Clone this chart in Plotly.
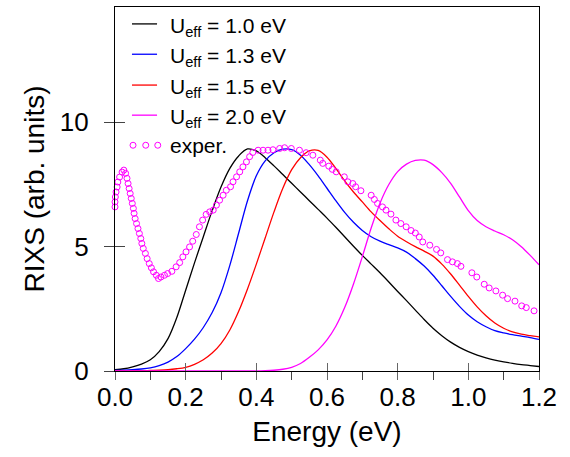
import plotly.graph_objects as go

# ---- energy grid of the calculated spectra (eV) ----
e_calc = [0.000, 0.025, 0.050, 0.075, 0.100, 0.125, 0.150, 0.175, 0.200, 0.225, 0.250,
          0.275, 0.300, 0.325, 0.350, 0.375, 0.400, 0.425, 0.450, 0.475, 0.500, 0.525,
          0.550, 0.575, 0.600, 0.625, 0.650, 0.675, 0.700, 0.725, 0.750, 0.775, 0.800,
          0.825, 0.850, 0.875, 0.900, 0.925, 0.950, 0.975, 1.000, 1.025, 1.050, 1.075,
          1.100, 1.125, 1.150, 1.175, 1.200]

i_u10 = [0.05, 0.09, 0.17, 0.28, 0.45, 0.78, 1.30, 2.15, 3.25, 4.35, 5.40,
         6.45, 7.40, 8.15, 8.65, 8.93, 8.85, 8.58, 8.25, 7.90, 7.55, 7.20,
         6.85, 6.50, 6.15, 5.78, 5.40, 5.02, 4.65, 4.30, 3.95, 3.58, 3.20,
         2.83, 2.45, 2.07, 1.72, 1.42, 1.16, 0.95, 0.78, 0.64, 0.53, 0.44,
         0.37, 0.31, 0.26, 0.22, 0.18]

i_u13 = [0.02, 0.03, 0.05, 0.08, 0.13, 0.22, 0.36, 0.58, 0.90, 1.28, 1.75,
         2.35, 3.15, 4.25, 5.55, 6.85, 7.85, 8.45, 8.78, 8.92, 8.90, 8.68,
         8.30, 7.85, 7.35, 6.85, 6.38, 5.98, 5.65, 5.40, 5.22, 5.08, 4.95,
         4.78, 4.52, 4.22, 3.85, 3.43, 3.00, 2.60, 2.25, 1.98, 1.78, 1.62,
         1.53, 1.46, 1.40, 1.34, 1.27]

i_u15 = [0.00, 0.00, 0.01, 0.01, 0.02, 0.03, 0.05, 0.09, 0.15, 0.27, 0.45,
         0.72, 1.10, 1.65, 2.40, 3.30, 4.30, 5.35, 6.40, 7.35, 8.10, 8.58,
         8.85, 8.87, 8.60, 8.15, 7.65, 7.20, 6.80, 6.40, 6.05, 5.72, 5.42,
         5.20, 5.00, 4.82, 4.62, 4.30, 3.90, 3.45, 3.00, 2.58, 2.22, 1.93,
         1.72, 1.57, 1.48, 1.42, 1.37]

i_u20 = [0.00, 0.00, 0.00, 0.00, 0.00, 0.00, 0.00, 0.00, 0.00, 0.00, 0.00,
         0.00, 0.00, 0.00, 0.00, 0.00, 0.00, 0.01, 0.03, 0.07, 0.15, 0.30,
         0.55, 0.85, 1.25, 1.80, 2.55, 3.50, 4.60, 5.75, 6.75, 7.50, 8.02,
         8.32, 8.47, 8.48, 8.30, 7.98, 7.55, 7.00, 6.45, 6.05, 5.80, 5.63,
         5.48, 5.28, 5.00, 4.65, 4.27]

# ---- experimental data ----
e_exp = [0.000, 0.000, 0.001, 0.003, 0.006, 0.008, 0.013, 0.020, 0.025, 0.030, 0.034, 0.037,
         0.040, 0.043, 0.046, 0.049, 0.052, 0.054, 0.057, 0.061, 0.065, 0.069, 0.073, 0.076,
         0.080, 0.086, 0.091, 0.097, 0.103, 0.109, 0.117, 0.123, 0.130, 0.140, 0.149, 0.161,
         0.173, 0.183, 0.192, 0.201, 0.211, 0.220, 0.230, 0.239, 0.248, 0.258, 0.268, 0.278,
         0.287, 0.296, 0.306, 0.315, 0.327, 0.334, 0.344, 0.353, 0.362, 0.372, 0.381, 0.390,
         0.405, 0.419, 0.433, 0.447, 0.466, 0.480, 0.499, 0.522, 0.541, 0.560, 0.581, 0.588,
         0.605, 0.615, 0.626, 0.649, 0.659, 0.673, 0.681, 0.696, 0.725, 0.734, 0.743, 0.757,
         0.767, 0.781, 0.795, 0.809, 0.824, 0.838, 0.850, 0.861, 0.871, 0.891, 0.910, 0.922,
         0.941, 0.955, 0.969, 0.979, 1.010, 1.024, 1.045, 1.059, 1.078, 1.097, 1.111, 1.132,
         1.151, 1.164, 1.186]
i_exp = [6.60, 6.80, 7.00, 7.20, 7.40, 7.60, 7.80, 8.00, 8.08, 7.95, 7.75, 7.54,
         7.34, 7.14, 6.94, 6.74, 6.54, 6.34, 6.13, 5.93, 5.73, 5.53, 5.33, 5.13,
         4.93, 4.73, 4.52, 4.32, 4.15, 3.99, 3.85, 3.72, 3.78, 3.85, 3.92, 4.01,
         4.19, 4.36, 4.59, 4.79, 4.99, 5.22, 5.49, 5.80, 6.07, 6.30, 6.40, 6.47,
         6.67, 6.87, 7.07, 7.27, 7.41, 7.61, 7.81, 8.01, 8.21, 8.41, 8.62, 8.79,
         8.88, 8.88, 8.88, 8.90, 8.95, 8.98, 8.95, 8.88, 8.78, 8.68, 8.48, 8.35,
         8.24, 8.11, 8.01, 7.81, 7.61, 7.54, 7.41, 7.25, 7.07, 6.90, 6.74, 6.60,
         6.47, 6.31, 6.07, 5.93, 5.80, 5.65, 5.55, 5.39, 5.19, 5.06, 4.89, 4.75,
         4.48, 4.39, 4.32, 4.21, 3.95, 3.78, 3.49, 3.34, 3.22, 3.05, 2.91, 2.81,
         2.62, 2.55, 2.42]

series_names = ["U<sub>eff</sub> = 1.0 eV", "U<sub>eff</sub> = 1.3 eV",
                "U<sub>eff</sub> = 1.5 eV", "U<sub>eff</sub> = 2.0 eV"]
exp_name = "exper."
x_ticks = [0.0, 0.2, 0.4, 0.6, 0.8, 1.0, 1.2]
y_ticks = [0, 5, 10]

colors = ["#000000", "#0000ff", "#ff0000", "#ff00ff"]
MAG = "#ff00ff"
FONT = "Liberation Sans, Arial, Helvetica, sans-serif"

fig = go.Figure()
for iy, name, col in zip([i_u10, i_u13, i_u15, i_u20], series_names, colors):
    fig.add_trace(go.Scatter(x=e_calc, y=iy, mode="lines", name=name,
                             line=dict(color=col, width=1.3, shape="spline", smoothing=0.9),
                             showlegend=False))

fig.add_trace(go.Scatter(x=e_exp, y=i_exp, mode="markers", name=exp_name,
                         marker=dict(symbol="circle-open", size=6, color=MAG,
                                     line=dict(width=1.0, color=MAG)),
                         showlegend=False, cliponaxis=False))

# dummy trace to activate the overlay axes (inside ticks)
fig.add_trace(go.Scatter(x=[0], y=[0], xaxis="x2", yaxis="y2", mode="lines",
                         line=dict(width=0), hoverinfo="skip", showlegend=False))

# ---- custom legend ----
leg_rows = [13.96, 12.74, 11.50, 10.29, 9.08]
leg_line_x = [0.048, 0.119]
leg_text_x = 0.150
for row, name, col in zip(leg_rows[:4], series_names, colors):
    fig.add_shape(type="line", xref="x", yref="y", x0=leg_line_x[0], x1=leg_line_x[1],
                  y0=row, y1=row, line=dict(color=col, width=1.3))
    fig.add_annotation(x=leg_text_x, y=row, xref="x", yref="y", text=name, showarrow=False,
                       xanchor="left", yanchor="middle", yshift=-3,
                       font=dict(size=21, color="black", family=FONT))
leg_dot_x = [0.051, 0.087, 0.121]
fig.add_trace(go.Scatter(x=leg_dot_x, y=[leg_rows[4]] * 3, mode="markers",
                         marker=dict(symbol="circle-open", size=6, color=MAG,
                                     line=dict(width=1.0, color=MAG)),
                         showlegend=False, hoverinfo="skip"))
fig.add_annotation(x=leg_text_x, y=leg_rows[4], xref="x", yref="y", text=exp_name,
                   showarrow=False, xanchor="left", yanchor="middle",
                   font=dict(size=21, color="black", family=FONT))

fig.update_layout(
    width=570, height=457,
    margin=dict(l=115, r=31, t=7, b=86),
    paper_bgcolor="white", plot_bgcolor="white",
    font=dict(family=FONT, color="black"),
    xaxis=dict(range=[0, 1.2], tickvals=x_ticks, ticktext=[f"{v:.1f}" for v in x_ticks],
               ticks="outside", ticklen=8, tickwidth=1.2, tickcolor="#666",
               ticklabelstandoff=-5,
               minor=dict(dtick=0.1, tick0=0, ticks="outside", ticklen=8, tickcolor="#444",
                          tickwidth=1),
               showline=True, linecolor="black", linewidth=1.2, mirror=True,
               showgrid=False, zeroline=False, automargin=False,
               tickfont=dict(size=26, family=FONT),
               title=dict(text="Energy (eV)", font=dict(size=28, family=FONT), standoff=10)),
    yaxis=dict(range=[0, 14.64], tickvals=y_ticks, ticks="outside", ticklen=10,
               tickwidth=1, tickcolor="#444", ticklabelstandoff=10,
               showline=True, linecolor="black", linewidth=1.2, mirror=True,
               showgrid=False, zeroline=False, automargin=False,
               tickfont=dict(size=26, family=FONT),
               title=dict(text="RIXS (arb. units)", font=dict(size=28, family=FONT),
                          standoff=6)),
    xaxis2=dict(range=[0, 1.2], overlaying="x", anchor="y", side="bottom",
                tickvals=x_ticks, ticks="inside", ticklen=8, tickwidth=1.2, tickcolor="#666",
                showticklabels=False, showgrid=False, zeroline=False, showline=False),
    yaxis2=dict(range=[0, 14.64], overlaying="y", anchor="x", side="left",
                tickvals=y_ticks, ticks="inside", ticklen=10, tickwidth=1, tickcolor="#444",
                showticklabels=False, showgrid=False, zeroline=False, showline=False),
)

fig.write_html("out.html", config={"displayModeBar": False},
               post_script="document.body.style.margin='0';")
